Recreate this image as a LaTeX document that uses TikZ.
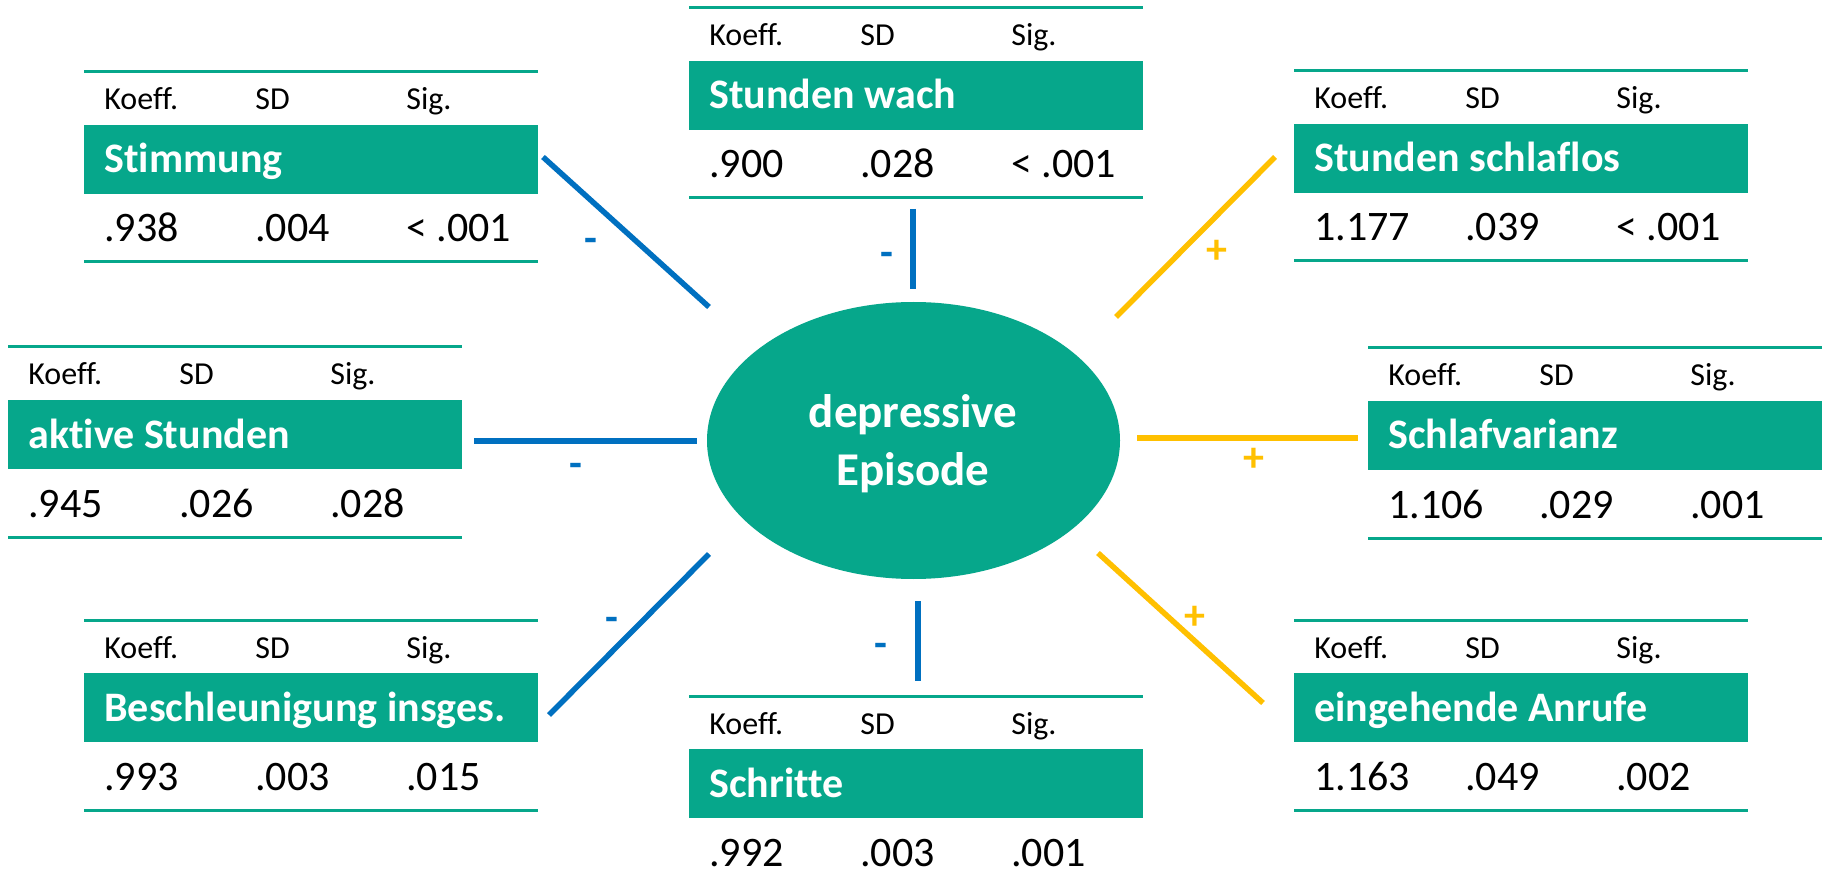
\documentclass[tikz,border=0pt]{standalone}
\usepackage{fontspec}
\setmainfont[Ligatures=NoCommon]{Carlito}
\usetikzlibrary{shapes.geometric}
\definecolor{tealc}{RGB}{6,167,139}
\definecolor{negblue}{RGB}{0,112,192}
\definecolor{posgold}{RGB}{255,192,0}
\tikzset{
  rulel/.style={draw=tealc, line width=1.5pt},
  band/.style={fill=tealc, draw=none, inner sep=0pt, anchor=north west, minimum width=227pt, minimum height=34.5pt},
  hdr/.style={inner sep=0pt, anchor=base west, font=\fontsize{16}{19}\selectfont},
  ttl/.style={inner sep=0pt, anchor=base west, text=white, font=\fontsize{21}{25}\selectfont\bfseries},
  val/.style={inner sep=0pt, anchor=base west, font=\fontsize{21}{25}\selectfont},
  epi/.style={ellipse, fill=tealc, draw=none, inner sep=0pt, minimum width=206.5pt, minimum height=138.5pt},
  epitext/.style={inner sep=0pt, anchor=base, text=white, font=\fontsize{23.5}{29}\selectfont\bfseries},
  negline/.style={draw=negblue, line width=2.75pt},
  posline/.style={draw=posgold, line width=2.75pt},
  negsign/.style={inner sep=0pt, anchor=base, text=negblue, font=\fontsize{21}{25}\selectfont\bfseries},
  possign/.style={inner sep=0pt, anchor=base, text=posgold, font=\fontsize{21}{25}\selectfont\bfseries}
}
\newcommand{\stattab}[7]{%
  \begin{scope}[shift={(#2,#3)}]
    \coordinate (#1-tl) at (0,0);
    \coordinate (#1-tr) at (454,0);
    \coordinate (#1-bl) at (0,190);
    \coordinate (#1-br) at (454,190);
    \draw[rulel] (#1-tl) -- (#1-tr);
    \draw[rulel] (#1-bl) -- (#1-br);
    \node[band] (#1-band) at (0,53) {};
    \node[hdr] (#1-h1) at (20,38) {Koeff.};
    \node[hdr] (#1-h2) at (171,38) {SD};
    \node[hdr] (#1-h3) at (322,38) {Sig.};
    \node[ttl] (#1-title) at (20,101) {#4};
    \node[val] (#1-v1) at (20,170) {#5};
    \node[val] (#1-v2) at (171,170) {#6};
    \node[val] (#1-v3) at (322,170) {#7};
  \end{scope}}
\begin{document}
\begin{tikzpicture}[x=0.5pt, y=-0.5pt]
  \useasboundingbox (0,0) rectangle (1822,882);
  \clip (0,0) rectangle (1822,882);
  \fill[white] (0,0) rectangle (1822,882);

  \stattab{stim}{84}{72}{Stimmung}{.938}{.004}{< .001}
  \stattab{wach}{689}{8}{Stunden wach}{.900}{.028}{< .001}
  \stattab{schl}{1294}{71}{Stunden schlaflos}{1.177}{.039}{< .001}
  \stattab{akt}{8}{347}{aktive Stunden}{.945}{.026}{.028}
  \stattab{var}{1368}{348}{Schlafvarianz}{1.106}{.029}{.001}
  \stattab{besch}{84}{620}{Beschleunigung insges.}{.993}{.003}{.015}
  \stattab{schr}{689}{696}{Schritte}{.992}{.003}{.001}
  \stattab{anr}{1294}{620}{eingehende Anrufe}{1.163}{.049}{.002}

  \node[epi] (ep) at (913.5,440.5) {};
  \node[epitext] (ep-t1) at (913,428) {depressive};
  \node[epitext] (ep-t2) at (913,486) {Episode};

  % connectors
  \coordinate (c1a) at (543,157);  \coordinate (c1b) at (709,307);
  \coordinate (c2a) at (913,209);  \coordinate (c2b) at (913,289);
  \coordinate (c3a) at (1116,317); \coordinate (c3b) at (1275,157);
  \coordinate (c4a) at (474,441);  \coordinate (c4b) at (697,441);
  \coordinate (c5a) at (1137,438); \coordinate (c5b) at (1358,438);
  \coordinate (c6a) at (549,715);  \coordinate (c6b) at (709,554);
  \coordinate (c7a) at (918,601);  \coordinate (c7b) at (918,681);
  \coordinate (c8a) at (1098,553); \coordinate (c8b) at (1263,703);

  \draw[negline] (c1a) -- (c1b);
  \draw[negline] (c2a) -- (c2b);
  \draw[posline] (c3a) -- (c3b);
  \draw[negline] (c4a) -- (c4b);
  \draw[posline] (c5a) -- (c5b);
  \draw[negline] (c6a) -- (c6b);
  \draw[negline] (c7a) -- (c7b);
  \draw[posline] (c8a) -- (c8b);

  \node[negsign] (s1) at (591,253) {-};
  \node[negsign] (s2) at (887,267) {-};
  \node[possign] (s3) at (1217,264) {+};
  \node[negsign] (s4) at (576,477) {-};
  \node[possign] (s5) at (1254,472) {+};
  \node[negsign] (s6) at (612,631) {-};
  \node[negsign] (s7) at (881,657) {-};
  \node[possign] (s8) at (1195,629) {+};
\end{tikzpicture}
\end{document}
